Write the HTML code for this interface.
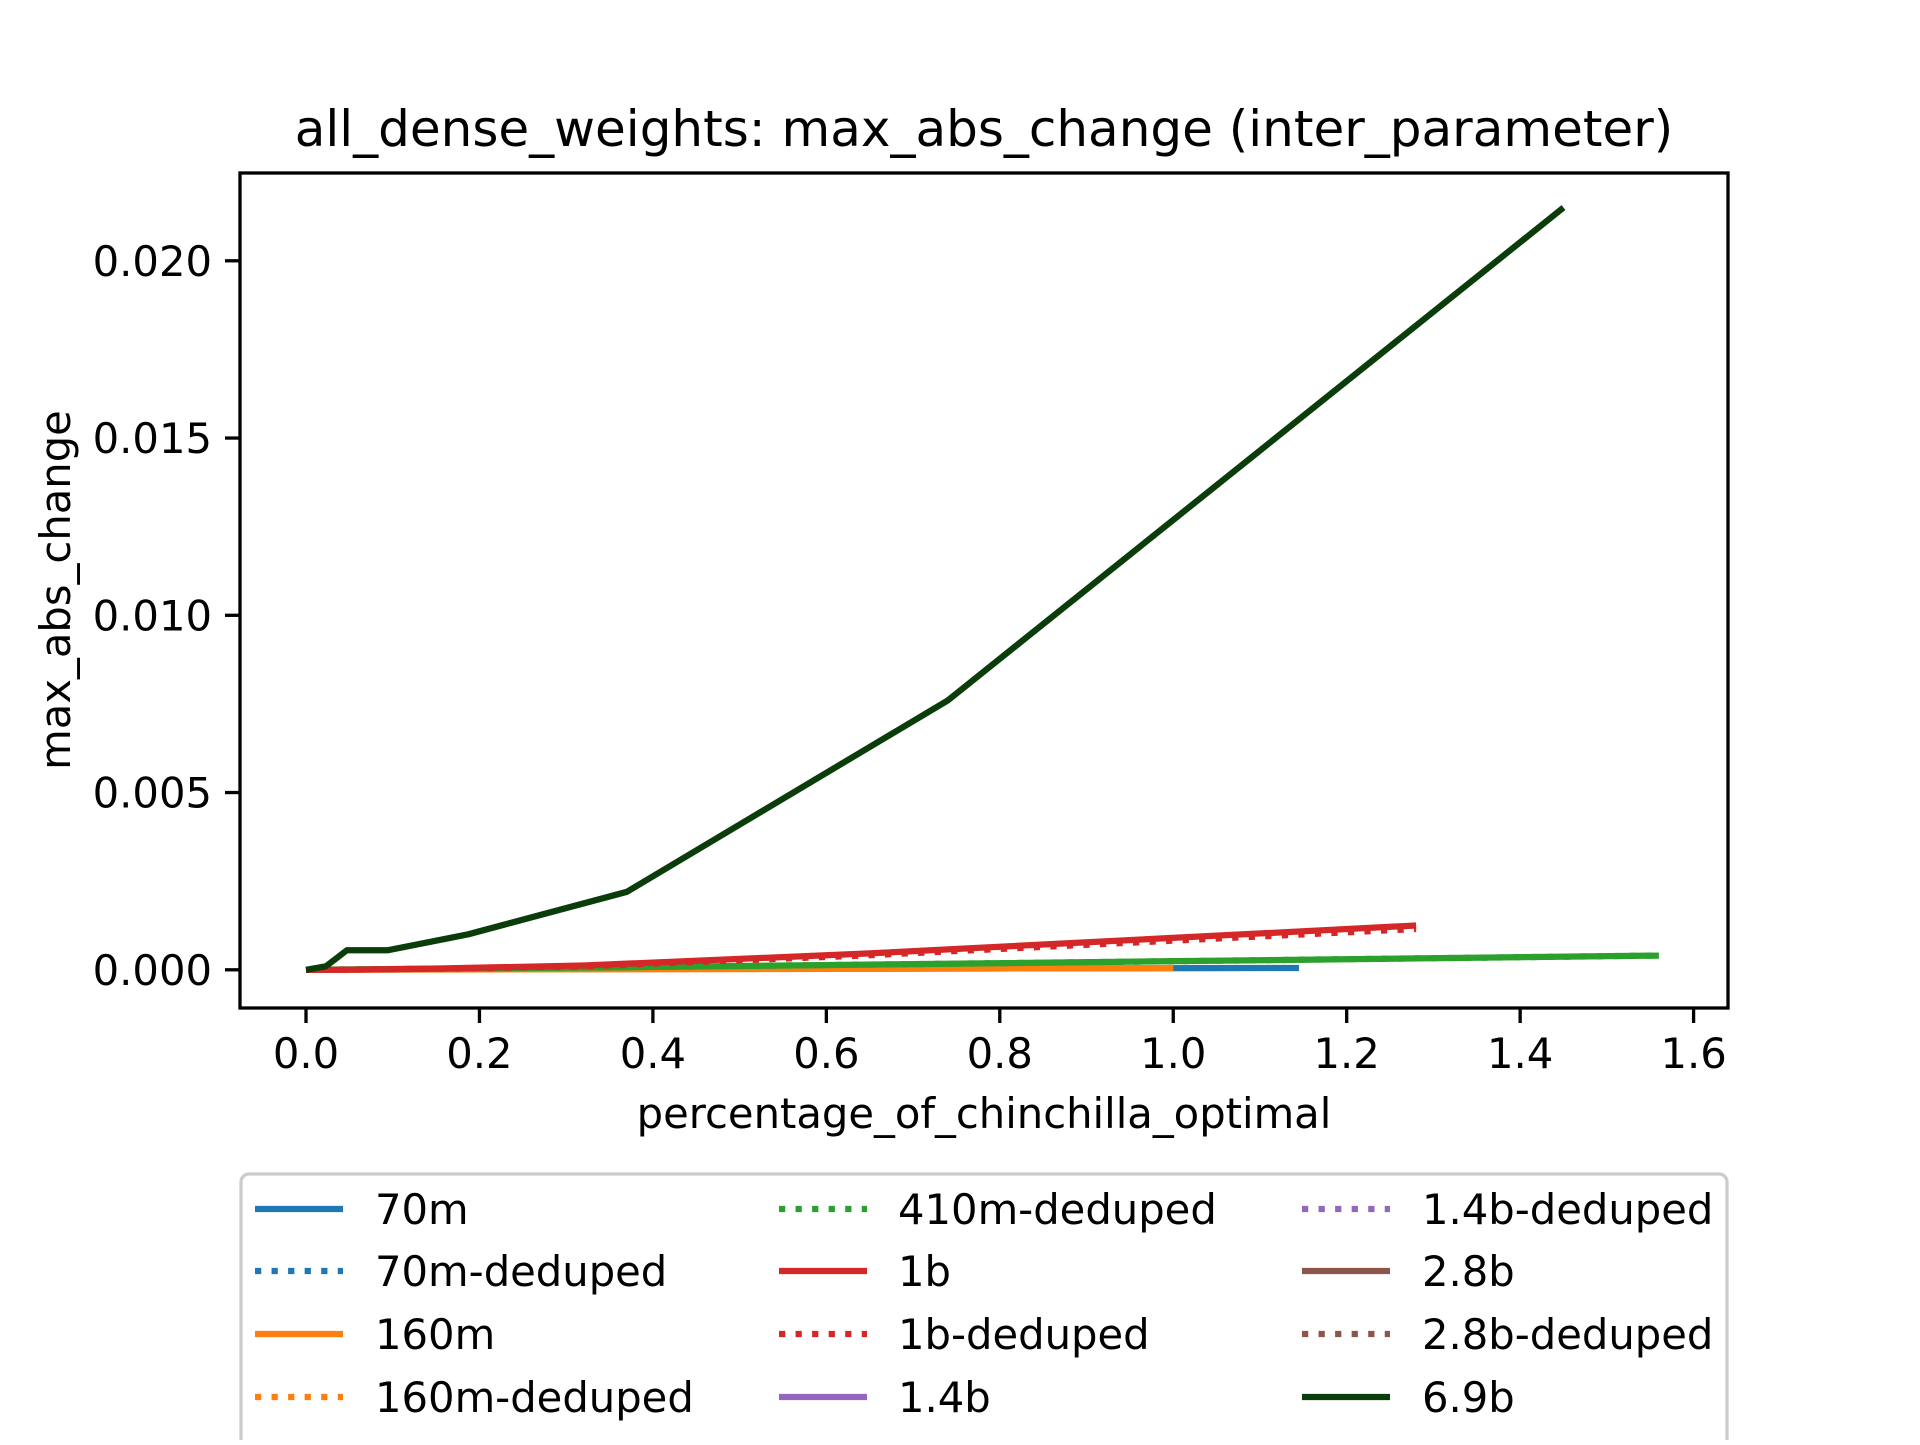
<!DOCTYPE html>
<html><head><meta charset="utf-8"><style>
html,body{margin:0;padding:0;background:#fff;}
svg text{font-family:"DejaVu Sans","Liberation Sans",sans-serif;fill:#000;}
</style></head><body>
<svg id="chart" width="1920" height="1440" viewBox="0 0 1920 1440" xmlns="http://www.w3.org/2000/svg">
<rect width="1920" height="1440" fill="#fff"/>
<text x="984" y="146" font-size="50" text-anchor="middle">all_dense_weights: max_abs_change (inter_parameter)</text>
<g id="plot"></g>
<rect x="240" y="173" width="1488" height="835" fill="none" stroke="#000" stroke-width="3.3"/>
<g id="xt"></g><g id="yt"></g>
<text x="984" y="1128" font-size="41.7" text-anchor="middle">percentage_of_chinchilla_optimal</text>
<text transform="translate(70,590) rotate(-90)" font-size="41.7" text-anchor="middle">max_abs_change</text>
<rect x="241" y="1174" width="1486" height="300" rx="8" fill="#fff" stroke="#ccc" stroke-width="3.3"/>
<g id="legend"></g>
</svg>
<script>
const xTicks=[0,0.2,0.4,0.6,0.8,1.0,1.2,1.4,1.6];
const xTickLabels=["0.0","0.2","0.4","0.6","0.8","1.0","1.2","1.4","1.6"];
const yTicks=[0,0.005,0.01,0.015,0.02];
const yTickLabels=["0.000","0.005","0.010","0.015","0.020"];
const seriesNames=["70m","70m-deduped","160m","160m-deduped","410m-deduped","1b","1b-deduped","1.4b","1.4b-deduped","2.8b","2.8b-deduped","6.9b"];
const x70m=[0,0.14,0.29,0.57,1.145];
const y70m=[0,0.00001,0.00002,0.00003,0.00005];
const x160m=[0,0.25,0.5,1.0];
const y160m=[0,0.00001,0.00002,0.00005];
const x410m=[0,0.39,0.78,1.56];
const y410m=[0,0.00008,0.00018,0.0004];
const x1b=[0,0.02,0.04,0.08,0.16,0.32,0.64,1.28];
const y1b=[0,0,0,0.00001,0.00004,0.00012,0.00045,0.00125];
const y1bd=[0,0,0,0.00001,0.00003,0.0001,0.0004,0.00115];
const x69b=[0,0.023,0.047,0.094,0.187,0.37,0.74,1.45];
const y69b=[0,0.0001,0.00055,0.00055,0.001,0.0022,0.0076,0.0215];

const X=v=>306+v*(1693.6-306)/1.6;
const Y=v=>969.8-v*(969.8-260.8)/0.02;
const NS="http://www.w3.org/2000/svg";
function mk(t,a,p){const e=document.createElementNS(NS,t);for(const k in a)e.setAttribute(k,a[k]);p.appendChild(e);return e;}
const plot=document.getElementById('plot');
const LW=6.25, DOT="6.25 10.3";
const draw=[
 {xs:x70m,ys:y70m,c:"#1f77b4",d:null,n:"series-70m"},
 {xs:x160m,ys:y160m,c:"#ff7f0e",d:null,n:"series-160m"},
 {xs:x410m,ys:y410m,c:"#2ca02c",d:DOT,n:"series-410m-deduped"},
 {xs:x410m,ys:y410m,c:"#2ca02c",d:null,n:"series-410m"},
 {xs:x1b,ys:y1bd,c:"#d62728",d:DOT,n:"series-1b-deduped"},
 {xs:x1b,ys:y1b,c:"#d62728",d:null,n:"series-1b"},
 {xs:x69b,ys:y69b,c:"#0b3d0b",d:null,n:"series-6.9b"}
];
draw.forEach(s=>{
 const pts=s.xs.map((x,i)=>X(x).toFixed(1)+","+Y(s.ys[i]).toFixed(1)).join(" ");
 const a={points:pts,fill:"none",stroke:s.c,"stroke-width":LW,"stroke-linejoin":"round"};
 if(s.d)a["stroke-dasharray"]=s.d;
 const e=mk("polyline",a,plot);
 
 
});
const xt=document.getElementById('xt');
xTicks.forEach((v,i)=>{
 const l=mk("line",{x1:X(v),x2:X(v),y1:1008,y2:1023,stroke:"#000","stroke-width":3.3},xt);
 
 
 const t=mk("text",{x:X(v),y:1068,"font-size":41.7,"text-anchor":"middle"},xt);
 t.textContent=xTickLabels[i];
 
 
});
const yt=document.getElementById('yt');
yTicks.forEach((v,i)=>{
 const l=mk("line",{x1:225,x2:240,y1:Y(v),y2:Y(v),stroke:"#000","stroke-width":3.3},yt);
 
 
 const t=mk("text",{x:212,y:Y(v)+15,"font-size":41.7,"text-anchor":"end"},yt);
 t.textContent=yTickLabels[i];
 
 
});
const colors=["#1f77b4","#1f77b4","#ff7f0e","#ff7f0e","#2ca02c","#d62728","#d62728","#9467bd","#9467bd","#8c564b","#8c564b","#0b3d0b"];
const dotted=[false,true,false,true,true,false,true,false,true,false,true,false];
const lg=document.getElementById('legend');
const colX=[[255,343,375],[779,867,898],[1302,1390,1422]];
const rowY=[1209,1271,1334,1397];
seriesNames.forEach((n,i)=>{
 const c=Math.floor(i/4), r=i%4;
 const g=mk("g",{},lg);
 
 
 const a={x1:colX[c][0],x2:colX[c][1],y1:rowY[r],y2:rowY[r],stroke:colors[i],"stroke-width":LW};
 if(dotted[i])a["stroke-dasharray"]=DOT;
 mk("line",a,g);
 const t=mk("text",{x:colX[c][2],y:rowY[r]+15,"font-size":41.7},g);
 t.textContent=n;
});
</script>
</body></html>
